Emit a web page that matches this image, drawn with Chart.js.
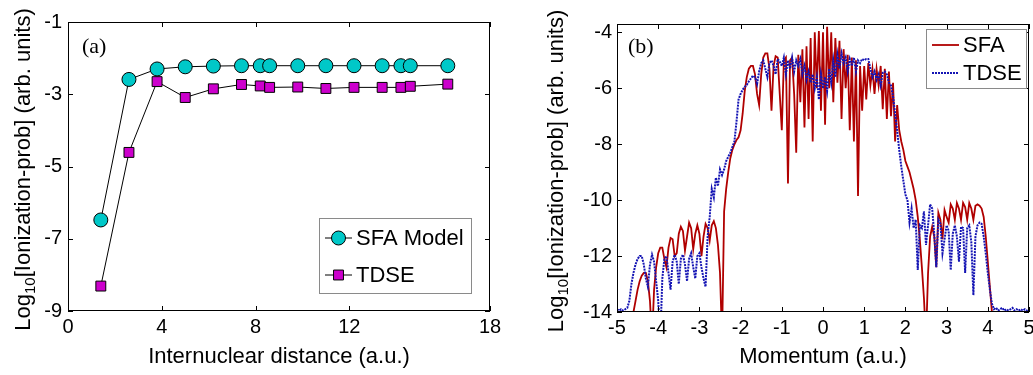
<!DOCTYPE html>
<html>
<head>
<meta charset="utf-8">
<script src="https://cdn.jsdelivr.net/npm/chart.js@4"></script>
<style>
  body { margin: 0; background: #fff; }
  #wrap { position: relative; width: 1033px; height: 375px; }
  .pane { position: absolute; top: 0; height: 375px; }
</style>
</head>
<body>
<div id="wrap">
  <div class="pane" style="left:0;width:515px"><canvas id="left"></canvas></div>
  <div class="pane" style="left:515px;width:518px"><canvas id="right"></canvas></div>
</div>
<script>
// ---- panel (a): ionization vs internuclear distance ----
const distance = [1.4, 2.6, 3.8, 5.0, 6.2, 7.4, 8.2, 8.6, 9.8, 11.0, 12.2, 13.4, 14.2, 14.6, 16.2];
const sfaModel = [-6.48, -2.59, -2.30, -2.24, -2.22, -2.21, -2.21, -2.21, -2.21, -2.21, -2.21, -2.21, -2.21, -2.21, -2.21];
const tdseA = [-8.31, -4.61, -2.65, -3.09, -2.85, -2.73, -2.77, -2.81, -2.80, -2.84, -2.81, -2.81, -2.81, -2.78, -2.72];
const distanceTicks = [0, 4, 8, 12, 18];
const probTicks = [-9, -7, -5, -3, -1];

// ---- panel (b): momentum spectra ----
const momentum = [
  -5, -4.95, -4.9, -4.85, -4.8, -4.75, -4.7, -4.65, -4.6, -4.55, -4.5, -4.45, -4.4, -4.35, -4.3, -4.25, -4.2, -4.15, -4.1, -4.05,
  -4, -3.95, -3.9, -3.85, -3.8, -3.75, -3.7, -3.65, -3.6, -3.55, -3.5, -3.45, -3.4, -3.35, -3.3, -3.25, -3.2, -3.15, -3.1, -3.05,
  -3, -2.95, -2.9, -2.85, -2.8, -2.75, -2.7, -2.65, -2.6, -2.55, -2.5, -2.45, -2.4, -2.35, -2.3, -2.25, -2.2, -2.15, -2.1, -2.05,
  -2, -1.95, -1.9, -1.85, -1.8, -1.75, -1.7, -1.65, -1.6, -1.55, -1.5, -1.45, -1.4, -1.35, -1.3, -1.25, -1.2, -1.15, -1.1, -1.05,
  -1, -0.95, -0.9, -0.85, -0.8, -0.75, -0.7, -0.65, -0.6, -0.55, -0.5, -0.45, -0.4, -0.35, -0.3, -0.25, -0.2, -0.15, -0.1, -0.05,
  0, 0.05, 0.1, 0.15, 0.2, 0.25, 0.3, 0.35, 0.4, 0.45, 0.5, 0.55, 0.6, 0.65, 0.7, 0.75, 0.8, 0.85, 0.9, 0.95,
  1, 1.05, 1.1, 1.15, 1.2, 1.25, 1.3, 1.35, 1.4, 1.45, 1.5, 1.55, 1.6, 1.65, 1.7, 1.75, 1.8, 1.85, 1.9, 1.95,
  2, 2.05, 2.1, 2.15, 2.2, 2.25, 2.3, 2.35, 2.4, 2.45, 2.5, 2.55, 2.6, 2.65, 2.7, 2.75, 2.8, 2.85, 2.9, 2.95,
  3, 3.05, 3.1, 3.15, 3.2, 3.25, 3.3, 3.35, 3.4, 3.45, 3.5, 3.55, 3.6, 3.65, 3.7, 3.75, 3.8, 3.85, 3.9, 3.95,
  4, 4.05, 4.1, 4.15, 4.2, 4.25, 4.3, 4.35, 4.4, 4.45, 4.5, 4.55, 4.6, 4.65, 4.7, 4.75, 4.8, 4.85, 4.9, 4.95,
  5
];
const sfaSpectrum = [
  -15, -15, -15, -15, -15, -15, -15, -14.6, -14.0, -13.6, -13.2, -12.9, -12.7, -12.6, -12.6, -12.9, -13.6, -15, -13.2, -12.4,
  -11.9, -11.7, -11.7, -12.1, -12.4, -11.7, -11.35, -11.4, -12.0, -11.9, -11.2, -10.95, -11.1, -11.8, -11.3, -10.8, -11.0, -11.75, -11.2, -10.9,
  -11.2, -12.0, -11.3, -10.85, -11.0, -11.45, -10.9, -10.75, -11.0, -11.6, -12.6, -15, -10.4, -9.6, -9.0, -8.5, -8.2, -8.0, -7.85, -7.75,
  -7.5, -6.9, -6.1, -5.6, -5.3, -5.2, -5.2, -5.5, -6.2, -6.6, -5.5, -4.9, -4.75, -4.75, -5.3, -6.8, -5.2, -4.85, -4.9, -6.2,
  -7.5, -5.0, -4.9, -9.4, -5.0, -4.9, -6.2, -8.3, -4.8, -6.5, -4.6, -7.4, -4.5, -7.1, -4.2, -7.9, -4.0, -6.0, -3.95, -6.8,
  -4.0, -7.3, -3.8, -6.0, -4.0, -6.5, -4.2, -5.8, -4.3, -7.1, -4.6, -6.0, -4.8, -7.5, -4.9, -7.9, -5.0, -9.85, -5.2, -6.8,
  -5.2, -6.4, -5.1, -5.9, -5.3, -6.2, -5.3, -5.9, -5.2, -6.75, -5.3, -7.1, -5.4, -7.0, -5.8, -7.9, -6.6, -7.5, -7.9, -8.2,
  -8.6, -8.8, -9.0, -9.3, -9.6, -10.0, -10.6, -11.4, -12.4, -13.5, -15, -12.6, -11.3, -10.95, -11.3, -12.4, -10.45, -10.7, -11.4, -10.35,
  -10.6, -10.8, -10.15, -10.3, -10.7, -10.1, -10.3, -10.7, -10.1, -10.25, -10.7, -10.1, -10.3, -10.7, -10.2, -10.15, -10.2, -10.3, -10.6, -11.3,
  -12.2, -13.1, -14.0, -15, -15, -15, -15, -15, -15, -15, -15, -15, -15, -15, -15, -15, -15, -15, -15, -15,
  -15
];
const tdseSpectrum = [
  -13.9, -13.95, -13.9, -13.95, -13.9, -13.85, -13.6, -13.0, -12.6, -12.3, -12.1, -12.0, -12.0, -12.3, -12.8, -13.1, -12.3, -11.95, -12.2, -12.9,
  -13.6, -15, -12.8, -12.1, -12.0, -12.6, -13.2, -12.2, -11.95, -12.2, -13.0, -12.1, -11.95, -12.3, -12.9, -12.1, -11.9, -12.4, -12.8, -12.0,
  -11.9, -12.4, -12.8, -13.1, -11.3, -10.6, -9.6, -9.9, -9.2, -9.5, -8.9, -9.1, -8.9, -8.6, -8.45, -8.3, -8.1, -7.9, -7.2, -6.4,
  -6.2, -6.05, -5.95, -5.88, -5.75, -5.65, -5.55, -5.6, -5.85, -5.4, -5.1, -5.0, -5.3, -5.6, -5.1, -5.0, -5.2, -5.5, -4.95, -5.05,
  -5.2, -4.9, -5.5, -5.0, -5.3, -4.9, -5.4, -5.0, -5.2, -4.95, -5.5, -5.2, -5.7, -5.4, -5.8, -5.5, -6.0, -5.6, -6.4, -5.5,
  -6.0, -5.6, -6.1, -5.3, -5.8, -5.0, -5.6, -4.8, -5.3, -4.75, -5.1, -4.9, -5.4, -4.95, -5.2, -4.9, -5.4, -5.0, -5.1, -4.95,
  -5.0, -4.95, -4.95, -5.3, -5.6, -5.4, -5.7, -5.5, -5.9, -5.45, -5.4, -5.5, -5.8, -5.9, -6.3, -6.9, -7.5, -8.2, -8.8, -9.3,
  -9.8, -10.0, -10.8, -10.3, -11.0, -10.7, -12.5, -10.9, -11.0, -10.4, -11.6, -10.9, -10.15, -10.3, -11.2, -12.4, -10.7, -10.85, -11.9, -11.4,
  -10.9, -11.1, -12.5, -11.2, -10.9, -11.3, -12.2, -10.95, -11.0, -12.6, -11.0, -10.9, -11.5, -13.4, -11.3, -10.9, -10.8, -10.85, -11.3, -11.9,
  -12.6, -13.2, -13.7, -13.9, -13.85, -13.95, -13.9, -13.85, -13.95, -13.9, -13.95, -13.9, -13.85, -13.95, -13.9, -13.95, -13.9, -13.95, -13.9, -13.95,
  -13.9
];
const momentumTicks = [-5, -4, -3, -2, -1, 0, 1, 2, 3, 4, 5];
const spectrumTicks = [-14, -12, -10, -8, -6, -4];

const SANS = '"Liberation Sans", Arial, Helvetica, sans-serif';
const SERIF = '"Liberation Serif", "Times New Roman", serif';

function fixTicks(list) {
  return scale => { scale.ticks = list.map(v => ({ value: v })); };
}
function fixSize(size) {
  return scale => {
    if (scale.isHorizontal()) scale.height = size; else scale.width = size;
    scale.paddingLeft = scale.paddingRight = scale.paddingTop = scale.paddingBottom = 0;
  };
}

function drawLogTitle(ctx, cx, cy) {
  const parts = [
    ['Log', '22px ' + SANS, 0],
    ['10', '15px ' + SANS, 5],
    ['[Ionization-prob] (arb. units)', '22px ' + SANS, 0]
  ];
  let total = 0;
  parts.forEach(p => { ctx.font = p[1]; p.push(ctx.measureText(p[0]).width); total += p[3]; });
  ctx.save();
  ctx.translate(cx, cy);
  ctx.rotate(-Math.PI / 2);
  ctx.fillStyle = '#000';
  ctx.textBaseline = 'alphabetic';
  ctx.textAlign = 'left';
  let x = -total / 2;
  parts.forEach(p => { ctx.font = p[1]; ctx.fillText(p[0], x, p[2]); x += p[3]; });
  ctx.restore();
}

// box, inward ticks, titles, panel tag and legend (matlab look)
const framePlugin = {
  id: 'frame',
  afterDatasetsDraw(chart, args, o) {
    const { ctx, chartArea: a, scales: { x, y } } = chart;
    ctx.save();
    ctx.strokeStyle = '#000';
    ctx.lineWidth = 1;
    ctx.beginPath();
    x.ticks.forEach(t => {
      const p = Math.round(x.getPixelForValue(t.value)) + 0.5;
      ctx.moveTo(p, a.bottom); ctx.lineTo(p, a.bottom - 5);
      ctx.moveTo(p, a.top); ctx.lineTo(p, a.top + 5);
    });
    y.ticks.forEach(t => {
      const p = Math.round(y.getPixelForValue(t.value)) + 0.5;
      ctx.moveTo(a.left, p); ctx.lineTo(a.left + 5, p);
      ctx.moveTo(a.right, p); ctx.lineTo(a.right - 5, p);
    });
    ctx.stroke();
    ctx.strokeRect(a.left + 0.5, a.top + 0.5, a.right - a.left - 1, a.bottom - a.top - 1);

    // panel tag
    ctx.fillStyle = '#000';
    ctx.font = '22px ' + SERIF;
    ctx.textBaseline = 'middle';
    ctx.textAlign = 'left';
    ctx.fillText(o.tag, o.tagX, o.tagY);

    // titles
    ctx.font = '22px ' + SANS;
    ctx.textAlign = 'center';
    ctx.fillText(o.xTitle, (a.left + a.right) / 2, o.xTitleY);
    drawLogTitle(ctx, o.yTitleX, (a.top + a.bottom) / 2 + 3);

    // legend
    const L = o.legend;
    ctx.fillStyle = '#fff';
    ctx.fillRect(L.x, L.y, L.w, L.h);
    ctx.strokeStyle = '#8a8a8a';
    ctx.strokeRect(L.x + 0.5, L.y + 0.5, L.w, L.h);
    chart.data.datasets.forEach((ds, i) => {
      const cy = L.y + L.first + i * L.step;
      ctx.save();
      ctx.strokeStyle = ds.borderColor;
      ctx.lineWidth = ds.borderWidth;
      if (ds.borderDash) ctx.setLineDash(ds.borderDash);
      ctx.beginPath();
      ctx.moveTo(L.x + L.lineFrom, cy); ctx.lineTo(L.x + L.lineTo, cy);
      ctx.stroke();
      ctx.restore();
      if (ds.pointRadius) {
        const mx = L.x + (L.lineFrom + L.lineTo) / 2;
        ctx.fillStyle = ds.pointBackgroundColor;
        ctx.strokeStyle = '#000';
        ctx.lineWidth = 1;
        ctx.beginPath();
        if (ds.pointStyle === 'rect') {
          const s = ds.pointRadius * Math.SQRT1_2;
          ctx.rect(mx - s, cy - s, 2 * s, 2 * s);
        } else {
          ctx.arc(mx, cy, ds.pointRadius, 0, Math.PI * 2);
        }
        ctx.fill(); ctx.stroke();
      }
      ctx.fillStyle = '#000';
      ctx.font = '22px ' + SANS;
      ctx.textAlign = 'left';
      ctx.textBaseline = 'middle';
      ctx.fillText(ds.label, L.x + L.text, cy + 1);
    });
    ctx.restore();
  }
};

const tickFont = { family: SANS, size: 20 };

new Chart(document.getElementById('left'), {
  type: 'line',
  data: {
    datasets: [
      {
        label: 'SFA Model',
        data: distance.map((d, i) => ({ x: d, y: sfaModel[i] })),
        borderColor: '#000', borderWidth: 1,
        pointStyle: 'circle', pointRadius: 7,
        pointBackgroundColor: 'rgb(0,200,200)', pointBorderColor: '#000', pointBorderWidth: 1
      },
      {
        label: 'TDSE',
        data: distance.map((d, i) => ({ x: d, y: tdseA[i] })),
        borderColor: '#000', borderWidth: 1,
        pointStyle: 'rect', pointRadius: 7,
        pointBackgroundColor: 'rgb(204,0,204)', pointBorderColor: '#000', pointBorderWidth: 1
      }
    ]
  },
  options: {
    responsive: true, maintainAspectRatio: false, animation: false,
    layout: { padding: { top: 22, right: 25, left: 0, bottom: 0 } },
    plugins: {
      legend: { display: false }, tooltip: { enabled: false },
      frame: {
        tag: '(a)', tagX: 82, tagY: 47, xTitle: 'Internuclear distance (a.u.)', xTitleY: 357, yTitleX: 30,
        legend: { x: 319, y: 218, w: 152, h: 75, first: 20, step: 37, lineFrom: 6, lineTo: 33, text: 37 }
      }
    },
    scales: {
      x: {
        type: 'linear', min: 0, max: 18,
        afterBuildTicks: fixTicks(distanceTicks), afterFit: fixSize(64),
        grid: { display: false, drawTicks: false }, border: { display: false },
        ticks: { font: tickFont, color: '#000', padding: 4, maxRotation: 0 }
      },
      y: {
        min: -9, max: -1,
        afterBuildTicks: fixTicks(probTicks), afterFit: fixSize(68),
        grid: { display: false, drawTicks: false }, border: { display: false },
        ticks: { font: tickFont, color: '#000', padding: 6 }
      }
    }
  },
  plugins: [framePlugin]
});

new Chart(document.getElementById('right'), {
  type: 'line',
  data: {
    datasets: [
      {
        label: 'SFA',
        data: momentum.map((m, i) => ({ x: m, y: sfaSpectrum[i] })),
        borderColor: 'rgb(176,0,0)', borderWidth: 1.8,
        pointRadius: 0, tension: 0, order: 1
      },
      {
        label: 'TDSE',
        data: momentum.map((m, i) => ({ x: m, y: tdseSpectrum[i] })),
        borderColor: 'rgb(20,20,180)', borderWidth: 2, borderDash: [2, 1],
        pointRadius: 0, tension: 0, order: 0
      }
    ]
  },
  options: {
    responsive: true, maintainAspectRatio: false, animation: false,
    layout: { padding: { top: 24, right: 4, left: 0, bottom: 0 } },
    plugins: {
      legend: { display: false }, tooltip: { enabled: false },
      frame: {
        tag: '(b)', tagX: 113, tagY: 47, xTitle: 'Momentum (a.u.)', xTitleY: 357, yTitleX: 48,
        legend: { x: 411, y: 29, w: 100, h: 59, first: 16, step: 28, lineFrom: 6, lineTo: 33, text: 37 }
      }
    },
    scales: {
      x: {
        type: 'linear', min: -5, max: 5,
        afterBuildTicks: fixTicks(momentumTicks), afterFit: fixSize(63),
        grid: { display: false, drawTicks: false }, border: { display: false },
        ticks: { font: tickFont, color: '#000', padding: 4, maxRotation: 0 }
      },
      y: {
        min: -14, max: -3.7,
        afterBuildTicks: fixTicks(spectrumTicks), afterFit: fixSize(102),
        grid: { display: false, drawTicks: false }, border: { display: false },
        ticks: { font: tickFont, color: '#000', padding: 5 }
      }
    }
  },
  plugins: [framePlugin]
});
</script>
</body>
</html>
